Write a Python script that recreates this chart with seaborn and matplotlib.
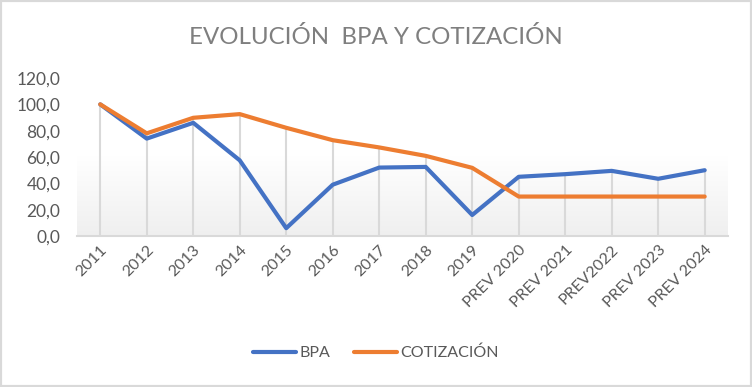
import pandas as pd
import seaborn as sns
import matplotlib.pyplot as plt
import numpy as np
from matplotlib.patches import Rectangle

# data
years = ['2011', '2012', '2013', '2014', '2015', '2016', '2017', '2018', '2019',
         'PREV 2020', 'PREV 2021', 'PREV2022', 'PREV 2023', 'PREV 2024']
bpa = [100.0, 74.0, 86.0, 57.5, 6.0, 39.0, 52.0, 52.5, 16.0, 45.0, 47.0, 49.5, 43.5, 50.0]
cotizacion = [100.0, 78.0, 89.8, 92.6, 82.2, 72.8, 67.3, 60.9, 51.8, 30.0, 30.0, 30.0, 30.0, 30.0]

df = pd.DataFrame({'pos': range(len(years)), 'BPA': bpa, 'COTIZACIÓN': cotizacion})
df_long = df.melt(id_vars='pos', var_name='serie', value_name='valor')

sns.set_style('white')
plt.rcParams['font.family'] = ['Lato', 'DejaVu Sans']

fig = plt.figure(figsize=(7.52, 3.87), dpi=100)
ax = fig.add_axes([0.1024, 0.39, 0.8656, 0.4084])

# gradient plot background
grad = np.linspace(0, 1, 256).reshape(-1, 1)
ax.imshow(grad, cmap=sns.blend_palette(['#ffffff', '#ffffff', '#efefef'], as_cmap=True),
          aspect='auto', extent=(0, 1, 0, 1), transform=ax.transAxes, zorder=0)

# drop lines
ax.vlines(df['pos'], 0, np.maximum(bpa, cotizacion), color='#d9d9d9', lw=1.5, zorder=1)

sns.lineplot(data=df_long, x='pos', y='valor', hue='serie',
             palette={'BPA': '#4472C4', 'COTIZACIÓN': '#ED7D31'},
             lw=3, ax=ax, zorder=3, legend=False)

ax.set_xlim(-0.5, len(years) - 0.5)
ax.set_ylim(0, 120)
ax.set_yticks(range(0, 121, 20))
ax.set_yticklabels([f'{v},0' for v in range(0, 121, 20)], color='#595959', fontsize=12.5)
ax.set_xticks(df['pos'])
ax.set_xticklabels(years, rotation=45, ha='right', rotation_mode='anchor',
                   color='#595959', fontsize=11.5)
ax.tick_params(axis='x', length=0, pad=5)
ax.tick_params(axis='y', length=0, pad=12)
ax.set_xlabel('')
ax.set_ylabel('')
for s in ['top', 'right', 'left']:
    ax.spines[s].set_visible(False)
ax.spines['bottom'].set_color('#d9d9d9')
ax.spines['bottom'].set_linewidth(1.5)

fig.text(0.5, 0.905, 'EVOLUCIÓN  BPA Y COTIZACIÓN', ha='center', va='center',
         fontsize=17.3, color='#7f7f7f')

handles = [plt.Line2D([], [], color='#4472C4', lw=3, solid_capstyle='round'),
           plt.Line2D([], [], color='#ED7D31', lw=3, solid_capstyle='round')]
fig.legend(handles, ['BPA', 'COTIZACIÓN'], loc='center', bbox_to_anchor=(0.5, 0.088),
           ncol=2, frameon=False, fontsize=11.5, handlelength=2.7, handletextpad=0.2,
           columnspacing=1.5, labelcolor='#595959')

fig.patches.append(Rectangle((0, 0), 1, 1, transform=fig.transFigure, fill=False,
                             edgecolor='#d9d9d9', lw=3))

fig.savefig('out.png', dpi=100)
